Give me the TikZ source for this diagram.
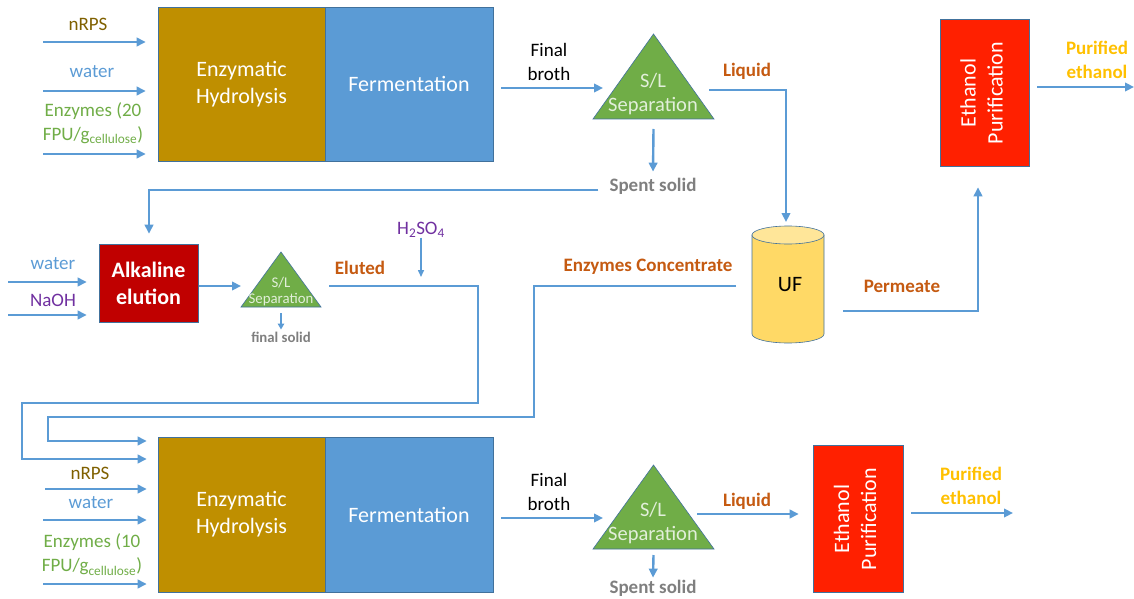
\documentclass[tikz,border=0pt]{standalone}
\usepackage{fontspec}
\setmainfont{Carlito}
\usetikzlibrary{arrows.meta,calc}

\definecolor{flowblue}{HTML}{5B9BD5}
\definecolor{hydgold}{HTML}{BF8F00}
\definecolor{fermblue}{HTML}{5B9BD5}
\definecolor{edgeblue}{HTML}{41719C}
\definecolor{sepgreen}{HTML}{70AD47}
\definecolor{septext}{HTML}{E2EFDA}
\definecolor{alkred}{HTML}{C00000}
\definecolor{ethred}{HTML}{FF2000}
\definecolor{ufbody}{HTML}{FFD966}
\definecolor{uftop}{HTML}{FFE699}
\definecolor{nrpsbrown}{HTML}{7F6000}
\definecolor{enzgreen}{HTML}{70AD47}
\definecolor{chempurple}{HTML}{7030A0}
\definecolor{streamorange}{HTML}{C55A11}
\definecolor{solidgray}{HTML}{7F7F7F}
\definecolor{prodyellow}{HTML}{FFC000}

\newcommand\procfont{\fontsize{22}{27}\selectfont}
\newcommand\lblfont{\fontsize{19}{24}\selectfont}
\newcommand\sepfont{\fontsize{20.5}{24}\selectfont}
\newcommand\minifont{\fontsize{14.8}{16}\selectfont}

\begin{document}
\begin{tikzpicture}[x=1pt,y=-1pt,
  proc/.style={draw=edgeblue, line width=0.6pt, inner sep=0pt, text=white,
               font=\procfont, align=center},
  lbl/.style={inner sep=1pt, font=\lblfont, align=center},
  stream/.style={lbl, text=streamorange, font=\lblfont\bfseries},
  solid/.style={lbl, text=solidgray, font=\lblfont\bfseries},
  product/.style={lbl, text=prodyellow, font=\lblfont\bfseries},
  tribox/.style={inner sep=0pt, outer sep=0pt},
  tri/.style={fill=sepgreen, draw=edgeblue, line width=0.6pt},
  septxt/.style={inner sep=0pt, text=septext, font=\sepfont, align=center},
  pipe/.style={draw=flowblue, line width=2.4pt, line join=miter},
  flow/.style={pipe, -{Triangle[length=9pt,width=8.5pt]}},
  thinflow/.style={draw=flowblue, line width=1.5pt, -{Triangle[length=7pt,width=6pt]}},
  smallflow/.style={draw=flowblue, line width=2pt, -{Triangle[length=6pt,width=6.5pt]}}]
\useasboundingbox (0,0) rectangle (1134,599);

% ---------------- first cycle ----------------
\node[proc, fill=hydgold, minimum width=167pt, minimum height=154pt] (hyd1) at (241.5,84) {Enzymatic\\Hydrolysis};
\node[proc, fill=fermblue, minimum width=168pt, minimum height=154pt] (fer1) at (409,84) {Fermentation};

\coordinate (f1a) at (43,42);
\coordinate (f1b) at (43,91);
\coordinate (f1c) at (43,154);
\node[lbl, text=nrpsbrown] (nrps1) at (88,24) {nRPS};
\node[lbl, text=flowblue] (wat1) at (92,72) {water};
\node[lbl, text=enzgreen] (enz1) at (93,123) {Enzymes (20\\FPU/g\textsubscript{cellulose})};
\draw[flow] (f1a) -- ($(f1a -| hyd1.west)+(-12,0)$);
\draw[flow] (f1b) -- ($(f1b -| hyd1.west)+(-12,0)$);
\draw[flow] (f1c) -- ($(f1c -| hyd1.west)+(-12,0)$);

\node[lbl] (fb1) at (549,62) {Final\\broth};
\node[tribox, minimum width=121pt, minimum height=85pt] (sep1) at (653.5,76.5) {};
\filldraw[tri] (sep1.south west) -- (sep1.south east) -- (sep1.north) -- cycle;
\node[septxt] (sep1t) at (653,94) {S/L\\Separation};
\draw[flow] ($(fer1.east)+(8,4)$) -- ($(sep1.west)+(10,11.5)$);

\node[solid] (spent1) at (653,186) {Spent solid};
\draw[flow] ($(sep1.south)+(0,10)$) -- ($(spent1.north)+(0,-5)$);

\node[stream] (liq1) at (747,71) {Liquid};

% ultrafiltration unit
\node[tribox, minimum width=72pt, minimum height=117pt] (uf) at (788,284.5) {};
\coordinate (ufT) at ($(uf.north)+(0,9)$);
\coordinate (ufB) at ($(uf.south)+(0,-9)$);
\filldraw[fill=ufbody, draw=edgeblue, line width=0.6pt]
  ($(ufT)+(-36,0)$) -- ($(ufB)+(-36,0)$) arc[start angle=180, end angle=0, x radius=36, y radius=9]
  -- ($(ufT)+(36,0)$) -- cycle;
\filldraw[fill=uftop, draw=edgeblue, line width=0.6pt] (ufT) ellipse [x radius=36, y radius=9];
\node[inner sep=0pt, font=\procfont] (uft) at (790,285) {UF};

\coordinate (lq1) at (786,90);
\draw[flow] ($(sep1.east)+(-5,13.5)$) -- (lq1) -- ($(uf.north)+(-2,-4)$);

\node[proc, fill=ethred, minimum width=89pt, minimum height=147pt] (eth1) at (984.5,92.5) {};
\node[rotate=90, inner sep=0pt, text=white, font=\procfont, align=center] (eth1t) at (981.5,93) {Ethanol\\Purification};

\node[stream] (perm) at (902,286) {Permeate};
\coordinate (pm1) at (978,311);
\draw[flow] ($(uf.east)+(19,26.5)$) -- (pm1) -- ($(eth1.south)+(-6.5,21)$);

\coordinate (out1) at (1134,87);
\node[product] (pur1) at (1097,60) {Purified\\ethanol};
\draw[flow] ($(eth1.east)+(8,-5.5)$) -- (out1);

% ---------------- enzyme recovery ----------------
\node[proc, fill=alkred, minimum width=99pt, minimum height=78pt, font=\procfont\bfseries] (alk) at (148.5,283) {Alkaline\\elution};

\coordinate (sp1) at (149,190);
\draw[flow] ($(spent1.west)+(-10,4)$) -- (sp1) -- ($(alk.north)+(0.5,-10)$);

\coordinate (f2a) at (8,282);
\coordinate (f2b) at (8,315);
\node[lbl, text=flowblue] (wat2) at (53,264) {water};
\node[lbl, text=chempurple] (naoh) at (53,300) {NaOH};
\draw[flow] (f2a) -- ($(f2a -| alk.west)+(-12,0)$);
\draw[flow] (f2b) -- ($(f2b -| alk.west)+(-12,0)$);

\node[tribox, minimum width=80pt, minimum height=55pt] (sep2) at (281,279.5) {};
\filldraw[tri] (sep2.south west) -- (sep2.south east) -- (sep2.north) -- cycle;
\node[septxt, font=\minifont] (sep2t) at (281,292) {S/L\\Separation};
\draw[flow] ($(alk.east)+(1,3)$) -- ($(sep2.west)+(0,6.5)$);

\node[solid, font=\minifont\bfseries] (fsol) at (281,337) {final solid};
\draw[smallflow] ($(sep2.south)+(0,6)$) -- ($(fsol.north)+(0,-1)$);

\node[stream] (elut) at (360,268) {Eluted};
\node[lbl, text=chempurple] (acid) at (421,230) {H\textsubscript{2}SO\textsubscript{4}};
\draw[thinflow] ($(acid.south)+(0,-1)$) -- (421,277);

\coordinate (el1) at (478,286);
\coordinate (el2) at (478,403);
\coordinate (el3) at (22,403);
\coordinate (el4) at (22,459);

\node[stream] (enzc) at (648,267) {Enzymes Concentrate};
\coordinate (ec1) at (534,286);
\coordinate (ec2) at (534,417);
\coordinate (ec3) at (48,417);
\coordinate (ec4) at (48,441);

% ---------------- second cycle ----------------
\node[proc, fill=hydgold, minimum width=167pt, minimum height=155pt] (hyd2) at (241.5,514.5) {Enzymatic\\Hydrolysis};
\node[proc, fill=fermblue, minimum width=168pt, minimum height=155pt] (fer2) at (409,514.5) {Fermentation};

\draw[flow] ($(sep2.east)+(8,6.5)$) -- (el1) -- (el2) -- (el3) -- (el4) -- ($(el4 -| hyd2.west)+(-11,0)$);
\draw[flow] ($(uf.west)+(-16,1.5)$) -- (ec1) -- (ec2) -- (ec3) -- (ec4) -- ($(ec4 -| hyd2.west)+(-11,0)$);

\coordinate (f3a) at (45,489);
\coordinate (f3b) at (43,520);
\coordinate (f3c) at (43,584);
\node[lbl, text=nrpsbrown] (nrps2) at (90,473) {nRPS};
\node[lbl, text=flowblue] (wat3) at (91,503) {water};
\node[lbl, text=enzgreen] (enz2) at (92,554.5) {Enzymes (10\\FPU/g\textsubscript{cellulose})};
\draw[flow] (f3a) -- ($(f3a -| hyd2.west)+(-11,0)$);
\draw[flow] (f3b) -- ($(f3b -| hyd2.west)+(-11,0)$);
\draw[flow] (f3c) -- ($(f3c -| hyd2.west)+(-11,0)$);

\node[lbl] (fb2) at (549,492) {Final\\broth};
\node[tribox, minimum width=121pt, minimum height=84pt] (sep3) at (653.5,507) {};
\filldraw[tri] (sep3.south west) -- (sep3.south east) -- (sep3.north) -- cycle;
\node[septxt] (sep3t) at (653,523.5) {S/L\\Separation};
\draw[flow] ($(fer2.east)+(8,3.5)$) -- ($(sep3.west)+(10,11)$);

\node[solid] (spent2) at (653,588) {Spent solid};
\draw[flow] ($(sep3.south)+(0,6)$) -- ($(spent2.north)+(0,-1)$);

\node[stream] (liq2) at (747,501) {Liquid};
\node[proc, fill=ethred, minimum width=90pt, minimum height=147pt] (eth2) at (858,518.5) {};
\node[rotate=90, inner sep=0pt, text=white, font=\procfont, align=center] (eth2t) at (855,519) {Ethanol\\Purification};
\draw[flow] ($(sep3.east)+(-17,7)$) -- ($(eth2.west)+(-14,-4.5)$);

\coordinate (out2) at (1013,513);
\node[product] (pur2) at (971,486) {Purified\\ethanol};
\draw[flow] ($(eth2.east)+(8,-5.5)$) -- (out2);
\end{tikzpicture}
\end{document}
